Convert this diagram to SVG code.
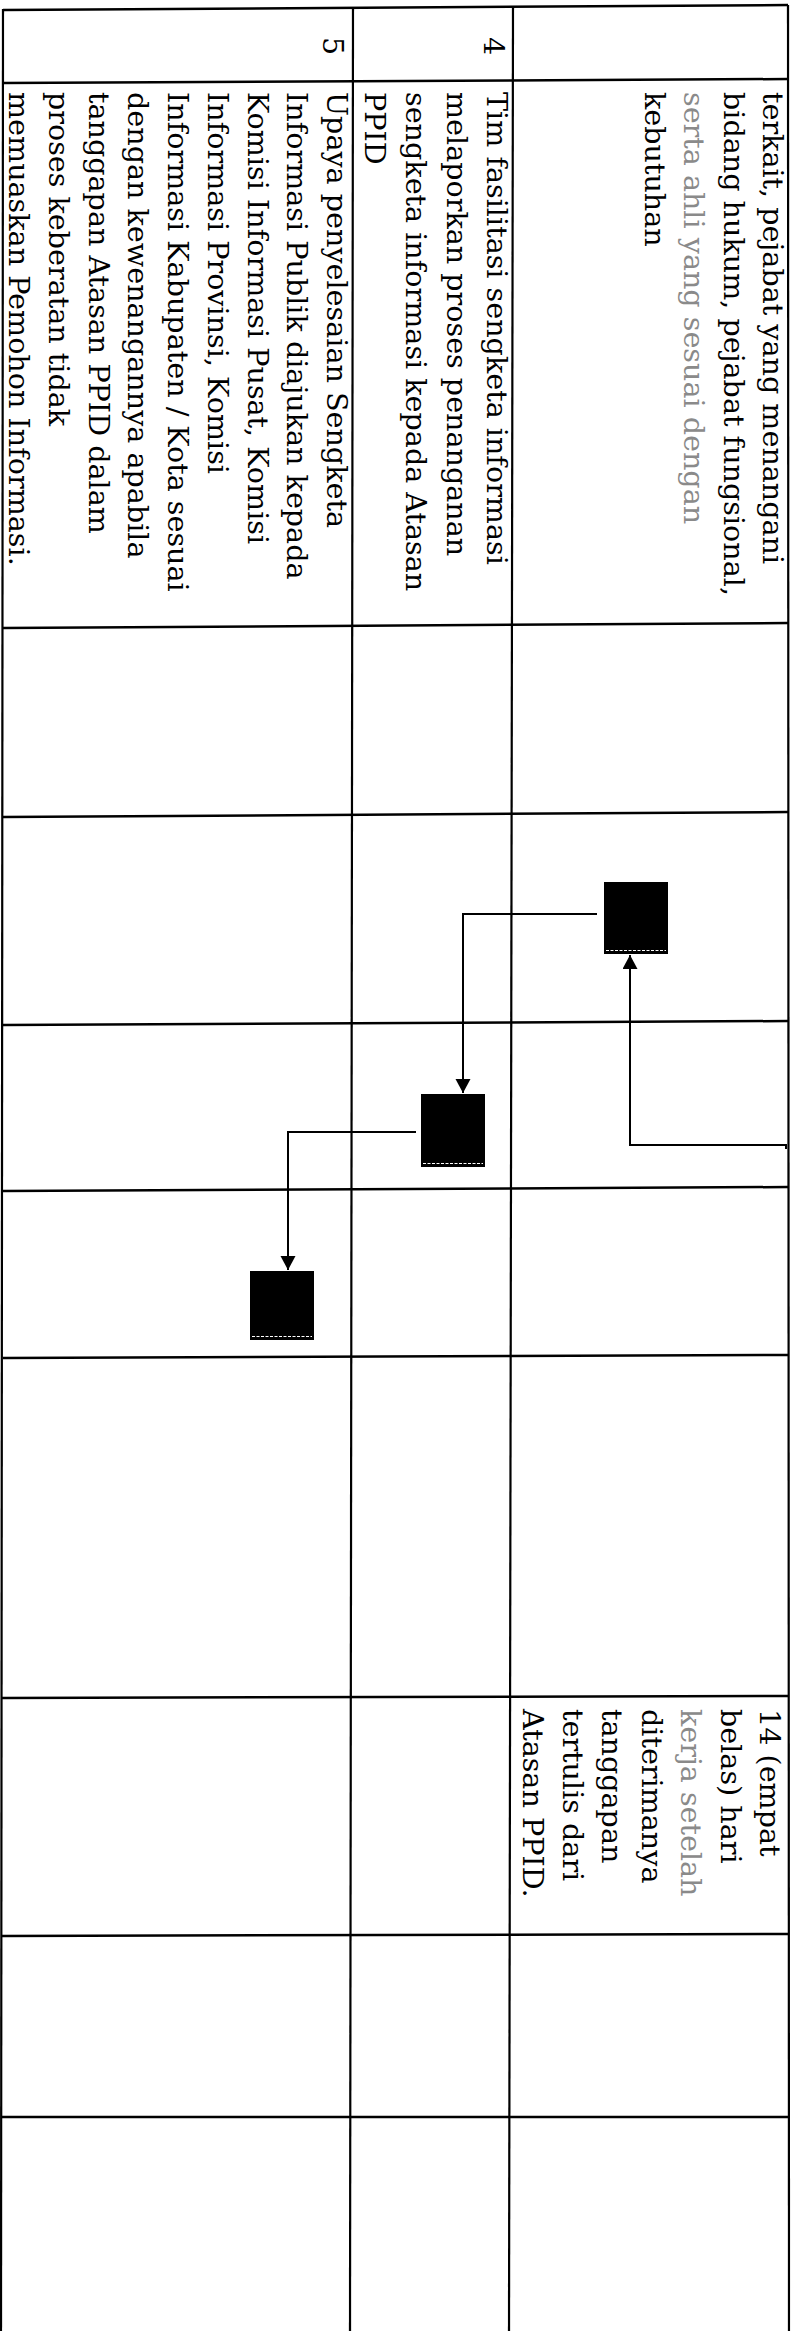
<svg xmlns="http://www.w3.org/2000/svg" width="794" height="2331" viewBox="0 0 794 2331">
  <style>
    .grid { stroke: #000; stroke-width: 2.5; fill: none; }
    .vgrid { stroke: #000; stroke-width: 2.2; fill: none; }
    .conn { stroke: #000; stroke-width: 2; fill: none; }
    .box { fill: #000; }
    .scan { stroke: #fff; stroke-width: 1.2; stroke-dasharray: 3 1.5; }
    .t { font-family: "DejaVu Serif", "Liberation Serif", serif; font-size: 28.6px; fill: #000; }
    .faint { fill: #8a8a8a; }
  </style>
  <defs>
    <marker id="arrow" markerUnits="userSpaceOnUse" markerWidth="15" markerHeight="16" refX="14" refY="7.5" orient="auto">
      <path d="M0,0 L14,7.5 L0,15 Z" fill="#000"/>
    </marker>
  </defs>
  <rect x="0" y="0" width="794" height="2331" fill="#fff"/>

  <g id="table">
    <!-- horizontal rules -->
    <line class="grid" x1="3" y1="10" x2="788" y2="5"/>
    <line class="grid" x1="3" y1="83" x2="788" y2="79"/>
    <line class="grid" x1="3" y1="628" x2="788" y2="623"/>
    <line class="grid" x1="3" y1="817" x2="788" y2="812"/>
    <line class="grid" x1="3" y1="1025" x2="788" y2="1021"/>
    <line class="grid" x1="3" y1="1191" x2="788" y2="1187"/>
    <line class="grid" x1="3" y1="1358" x2="788" y2="1355"/>
    <line class="grid" x1="2" y1="1698" x2="788" y2="1696"/>
    <line class="grid" x1="1" y1="1936" x2="789" y2="1934"/>
    <line class="grid" x1="1" y1="2117" x2="789" y2="2117"/>
    <!-- vertical rules -->
    <line class="vgrid" x1="3" y1="9" x2="1" y2="2331"/>
    <line class="vgrid" x1="353" y1="8" x2="350" y2="2331"/>
    <line class="vgrid" x1="513" y1="7" x2="509" y2="2331"/>
    <line class="vgrid" x1="788" y1="5" x2="789" y2="2331"/>
  </g>

  <g id="header-cells">
    <text class="t" transform="translate(484 37) rotate(90)">4</text>
    <text class="t" transform="translate(323 37) rotate(90)">5</text>
  </g>

  <g id="cell-col3-row1">
    <text class="t" transform="translate(763 92) rotate(90)">terkait, pejabat yang menangani</text>
    <text class="t" transform="translate(723.5 92) rotate(90)">bidang hukum, pejabat fungsional,</text>
    <text class="t faint" transform="translate(684 92) rotate(90)">serta ahli yang sesuai dengan</text>
    <text class="t" transform="translate(644.5 92) rotate(90)">kebutuhan</text>
  </g>

  <g id="cell-step4">
    <text class="t" transform="translate(487 92) rotate(90)">Tim fasilitasi sengketa informasi</text>
    <text class="t" transform="translate(446.5 92) rotate(90)">melaporkan proses penanganan</text>
    <text class="t" transform="translate(406 92) rotate(90)">sengketa informasi kepada Atasan</text>
    <text class="t" transform="translate(365 92) rotate(90)">PPID</text>
  </g>

  <g id="cell-step5">
    <text class="t" transform="translate(327 92) rotate(90)">Upaya penyelesaian Sengketa</text>
    <text class="t" transform="translate(287 92) rotate(90)">Informasi Publik diajukan kepada</text>
    <text class="t" transform="translate(247.5 92) rotate(90)">Komisi Informasi Pusat, Komisi</text>
    <text class="t" transform="translate(207.5 92) rotate(90)">Informasi Provinsi, Komisi</text>
    <text class="t" transform="translate(168 92) rotate(90)">Informasi Kabupaten / Kota sesuai</text>
    <text class="t" transform="translate(128 92) rotate(90)">dengan kewenangannya apabila</text>
    <text class="t" transform="translate(88.5 92) rotate(90)">tanggapan Atasan PPID dalam</text>
    <text class="t" transform="translate(49 92) rotate(90)">proses keberatan tidak</text>
    <text class="t" transform="translate(9 92) rotate(90)">memuaskan Pemohon Informasi.</text>
  </g>

  <g id="cell-time">
    <text class="t" transform="translate(760 1709) rotate(90)">14 (empat</text>
    <text class="t" transform="translate(720.5 1709) rotate(90)">belas) hari</text>
    <text class="t faint" transform="translate(681 1709) rotate(90)">kerja setelah</text>
    <text class="t" transform="translate(641.5 1709) rotate(90)">diterimanya</text>
    <text class="t" transform="translate(602 1709) rotate(90)">tanggapan</text>
    <text class="t" transform="translate(562.5 1709) rotate(90)">tertulis dari</text>
    <text class="t" transform="translate(523 1709) rotate(90)">Atasan PPID.</text>
  </g>

  <g id="node1">
    <rect class="box" x="604" y="882" width="64" height="72"/>
    <line class="scan" x1="606" y1="950.5" x2="666" y2="950.5"/>
  </g>
  <g id="node2">
    <rect class="box" x="421" y="1094" width="64" height="73"/>
    <line class="scan" x1="423" y1="1163.5" x2="483" y2="1163.5"/>
  </g>
  <g id="node3">
    <rect class="box" x="250" y="1271" width="64" height="69"/>
    <line class="scan" x1="252" y1="1336.5" x2="312" y2="1336.5"/>
  </g>

  <g id="connectors">
    <path class="conn" d="M786,1149 V1145 H630 V955" marker-end="url(#arrow)"/>
    <path class="conn" d="M597,914 H463 V1093" marker-end="url(#arrow)"/>
    <path class="conn" d="M416,1132 H288 V1270" marker-end="url(#arrow)"/>
  </g>
</svg>
